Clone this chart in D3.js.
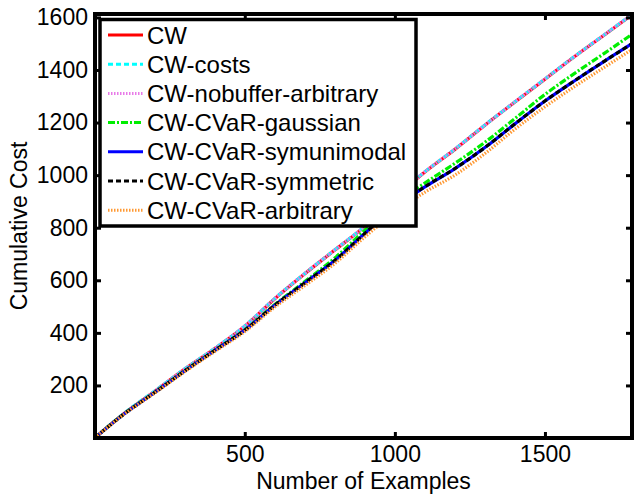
<!DOCTYPE html>
<html><head><meta charset="utf-8">
<script src="https://cdn.jsdelivr.net/npm/d3@7"></script>
<style>
html,body{margin:0;padding:0;background:#fff;}
svg{display:block;font-family:"Liberation Sans",Arial,sans-serif;}
</style></head>
<body><svg id="c" width="634" height="495"></svg>
<script>
const examples = [1,100,200,300,400,500,600,700,800,900,1000,1100,1200,1300,1400,1500,1600,1700,1790];
const cw            = [1,95,178,262,340,425,530,625,715,805,915,1012,1098,1190,1278,1365,1452,1535,1610];
const cwCosts       = [1,96,179,263,341,426,531,626,716,806,916,1013,1099,1191,1279,1366,1453,1536,1611];
const cwNobuffer    = [1,95,178,263,341,426,531,626,716,806,916,1013,1099,1190,1279,1366,1452,1536,1611];
const cvarGaussian  = [1,94,174,256,334,412,508,595,685,790,893,970,1045,1125,1215,1307,1388,1465,1536];
const cvarSymunimod = [1,93,173,255,333,410,505,590,675,778,878,955,1025,1105,1195,1282,1360,1435,1500];
const cvarSymmetric = [1,93,173,255,333,410,505,590,675,778,878,956,1025,1105,1195,1282,1360,1435,1500];
const cvarArbitrary = [1,92,171,252,329,405,498,580,664,765,858,935,1000,1082,1175,1260,1338,1412,1478];

const seriesNames = ["CW","CW-costs","CW-nobuffer-arbitrary","CW-CVaR-gaussian","CW-CVaR-symunimodal","CW-CVaR-symmetric","CW-CVaR-arbitrary"];
const seriesValues = [cw,cwCosts,cwNobuffer,cvarGaussian,cvarSymunimod,cvarSymmetric,cvarArbitrary];
const seriesColors = ["#ff0000","#00ffff","#e87ae8","#00ee00","#0000ff","#000000","#ff9933"];
const seriesDash = [null,"5,3","1.5,1.5","7,2,2,2",null,"5,3","1.5,1.5"];
const xTicks = [500,1000,1500];
const yTicks = [200,400,600,800,1000,1200,1400,1600];

const svg = d3.select("#c");
const L=95, R=632, T=14, B=438;
const x = d3.scaleLinear().domain([1,1790]).range([L,R]);
const y = d3.scaleLinear().domain([0,1613]).range([B,T]);

svg.append("defs").append("clipPath").attr("id","clip")
  .append("rect").attr("x",L).attr("y",T).attr("width",R-L).attr("height",B-T);

const line = d3.line().x(d=>x(d[0])).y(d=>y(d[1])).curve(d3.curveMonotoneX);
const g = svg.append("g").attr("clip-path","url(#clip)");
seriesValues.forEach((vals,i)=>{
  g.append("path").datum(examples.map((e,k)=>[e,vals[k]]))
   .attr("d",line).attr("fill","none")
   .attr("stroke",seriesColors[i]).attr("stroke-width",3.2)
   .attr("stroke-dasharray",seriesDash[i]);
});

// axes (ticks inward)
const tk = 6;
const axB = svg.append("g").attr("transform",`translate(0,${B})`)
  .call(d3.axisBottom(x).tickValues(xTicks).tickSizeInner(-tk).tickSizeOuter(0).tickPadding(8).tickFormat(d3.format("d")));
const axL = svg.append("g").attr("transform",`translate(${L},0)`)
  .call(d3.axisLeft(y).tickValues(yTicks).tickSizeInner(-tk).tickSizeOuter(0).tickPadding(7).tickFormat(d3.format("d")));
const axT = svg.append("g").attr("transform",`translate(0,${T})`)
  .call(d3.axisTop(x).tickValues(xTicks).tickSizeInner(-tk).tickSizeOuter(0).tickFormat(""));
const axR = svg.append("g").attr("transform",`translate(${R},0)`)
  .call(d3.axisRight(y).tickValues(yTicks).tickSizeInner(-tk).tickSizeOuter(0).tickFormat(""));
[axB,axL,axT,axR].forEach(a=>{
  a.select(".domain").remove();
  a.selectAll(".tick line").attr("stroke","#000").attr("stroke-width",3);
  a.selectAll(".tick text").attr("fill","#000").style("font-size","23px")
   .style("font-family","'Liberation Sans',Arial,sans-serif");
});
axB.selectAll(".tick text").attr("dy","0.71em");
// frame
svg.append("rect").attr("x",L).attr("y",T).attr("width",R-L).attr("height",B-T)
  .attr("fill","none").attr("stroke","#000").attr("stroke-width",4);

// axis titles
svg.append("text").attr("x",(L+R)/2).attr("y",489).attr("text-anchor","middle")
  .style("font-size","23px").text("Number of Examples");
svg.append("text").attr("transform",`translate(27,${(T+B)/2}) rotate(-90)`)
  .attr("text-anchor","middle").style("font-size","23px").text("Cumulative Cost");

// legend
const lg = svg.append("g");
lg.append("rect").attr("x",100).attr("y",19.5).attr("width",316).attr("height",206.5)
  .attr("fill","#fff").attr("stroke","#000").attr("stroke-width",3.5);
seriesNames.forEach((n,i)=>{
  const yy = 35 + i*29.2;
  lg.append("line").attr("x1",108).attr("x2",143).attr("y1",yy).attr("y2",yy)
    .attr("stroke",seriesColors[i]).attr("stroke-width",3).attr("stroke-dasharray",seriesDash[i]);
  lg.append("text").attr("x",147).attr("y",yy).attr("dy","0.36em")
    .style("font-size","24px").text(n);
});
</script></body></html>
